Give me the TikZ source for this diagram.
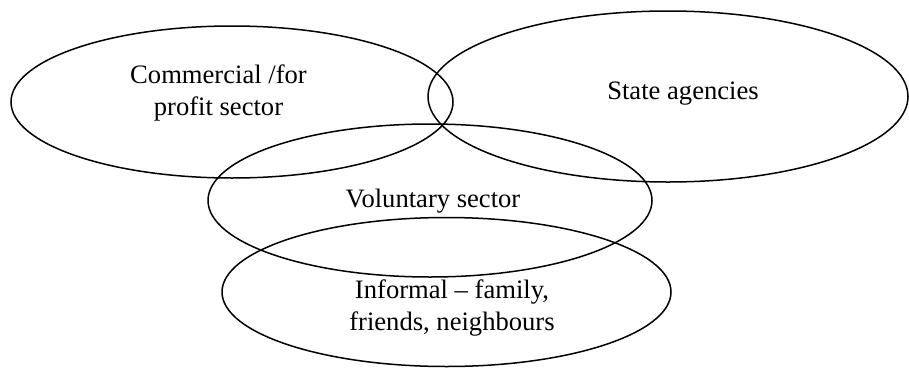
\documentclass[tikz,border=0pt]{standalone}
\usepackage{fontspec}
\setmainfont{Liberation Serif}
\usetikzlibrary{shapes.geometric}
\begin{document}
\begin{tikzpicture}[x=1pt,y=-1pt,
  oval/.style={ellipse, draw=black, line width=1.5pt, inner sep=0pt},
  label/.style={font=\fontsize{26.6}{32}\selectfont, inner sep=0pt, align=center}]
\useasboundingbox[fill=white] (0,0) rectangle (909,367);
\node[oval, minimum width=442pt, minimum height=152pt] (commercial) at (232,102) {};
\node[oval, minimum width=480pt, minimum height=171pt] (state) at (668,96.5) {};
\node[oval, minimum width=444pt, minimum height=153pt] (voluntary) at (430,200.5) {};
\node[oval, minimum width=449pt, minimum height=149pt] (informal) at (446.5,292) {};
\node[label, anchor=center] (tcomm) at (218.5,92.7) {Commercial /for\\profit sector};
\node[label, anchor=base] (tstate) at (683,99) {State agencies};
\node[label, anchor=base] (tvol) at (433,207) {Voluntary sector};
\node[label, anchor=center] (tinf) at (452,308) {Informal – family,\\friends, neighbours};
\end{tikzpicture}
\end{document}
